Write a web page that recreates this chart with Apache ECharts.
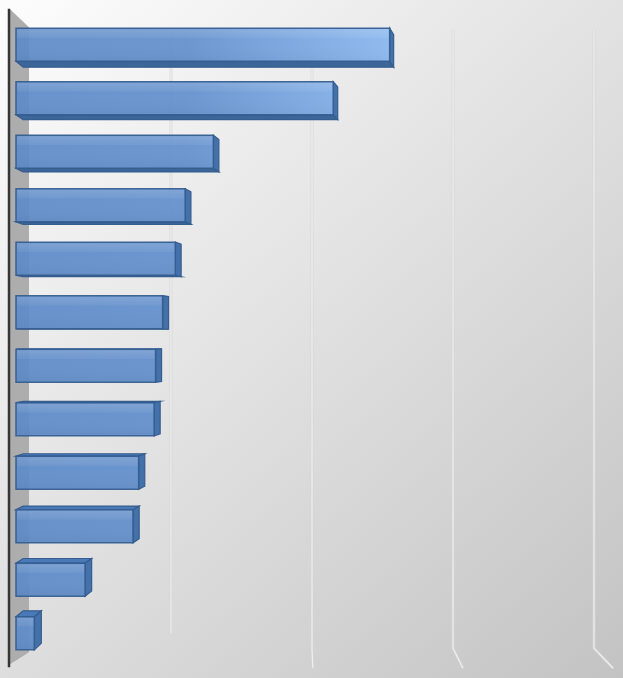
<!DOCTYPE html>
<html>
<head>
<meta charset="utf-8">
<script src="https://cdn.jsdelivr.net/npm/echarts@6/dist/echarts.min.js"></script>
<style>
html,body{margin:0;padding:0;background:#fff;}
#main{width:623px;height:678px;}
</style>
</head>
<body>
<div id="main"></div>
<script>
// 数据
var categories = ['1', '2', '3', '4', '5', '6', '7', '8', '9', '10', '11', '12'];
var values = [265, 225, 140, 120, 113, 104, 99, 98, 87, 83, 49, 13];
var ticks = [100, 200, 300, 400];

var chart = echarts.init(document.getElementById('main'));

// 立体效果的偏移量（右侧面 / 上下面）
function depth(x, y) {
    return [4 + (390 - x) * 0.0084, (340 - y) * 0.021];
}

function renderBar(params, api) {
    var i = api.value(1);
    var p = api.coord([api.value(0), i]);
    var p0 = api.coord([0, i]);
    var h = api.size([0, 1])[1] * 0.62;
    var x0 = p0[0] - 14, x1 = p[0] - 14;
    var y0 = p[1] - h / 2, y1 = p[1] + h / 2;
    var d0t = depth(x0, y0), d1t = depth(x1, y0), d1b = depth(x1, y1), d0b = depth(x0, y1);
    var edge = '#355d8f';
    var children = [];
    if (d1t[1] < 0) {
        // 顶面
        children.push({
            type: 'polygon',
            shape: {points: [[x0, y0], [x1, y0], [x1 + d1t[0], y0 + d1t[1]], [x0 + d0t[0], y0 + d0t[1]]]},
            style: {fill: '#4a79b8', stroke: edge, lineWidth: 1.2}
        });
    } else {
        // 底面
        children.push({
            type: 'polygon',
            shape: {points: [[x0, y1], [x1, y1], [x1 + d1b[0], y1 + d1b[1]], [x0 + d0b[0], y1 + d0b[1]]]},
            style: {fill: '#3c6699', stroke: edge, lineWidth: 1.2}
        });
    }
    // 右侧面
    children.push({
        type: 'polygon',
        shape: {points: [[x1, y0], [x1 + d1t[0], y0 + d1t[1]], [x1 + d1b[0], y1 + d1b[1]], [x1, y1]]},
        style: {fill: '#4571aa', stroke: edge, lineWidth: 1.2}
    });
    // 正面
    children.push({
        type: 'rect',
        shape: {x: x0, y: y0, width: x1 - x0, height: h},
        style: {
            fill: new echarts.graphic.LinearGradient(16, 0, 400, 0, [
                {offset: 0, color: '#5e8bc8'},
                {offset: 0.45, color: '#6390cd'},
                {offset: 1, color: '#8cbaf2'}
            ], true),
            stroke: edge,
            lineWidth: 1.5,
            opacity: 0.93
        }
    });
    children.push({
        type: 'rect',
        shape: {x: x0 + 1, y: y0 + 1, width: x1 - x0 - 2, height: h - 2},
        style: {
            fill: new echarts.graphic.LinearGradient(0, 0, 0, 1, [
                {offset: 0, color: 'rgba(255,255,255,0.14)'},
                {offset: 0.27, color: 'rgba(255,255,255,0.06)'},
                {offset: 0.3, color: 'rgba(255,255,255,0)'},
                {offset: 1, color: 'rgba(0,0,0,0.03)'}
            ])
        }
    });
    return {type: 'group', children: children};
}

function renderGrid(params, api) {
    var t = api.value(0);
    var top = api.coord([t, 0]);
    var bot = api.coord([t, categories.length - 1]);
    var x = top[0];
    var yTop = top[1] - 14.5, yBot = bot[1] + 15;
    var dx = (x - 300) * 0.065;
    var pts = [[x, yTop], [x, dx > 0 ? yBot : bot[1]]];
    if (dx > 0) pts.push([x + dx, yBot + 20]);
    return {
        type: 'group',
        children: [{
            type: 'polyline',
            shape: {points: pts},
            style: {stroke: '#d4d4d4', lineWidth: 3, fill: null, opacity: 0.7}
        }, {
            type: 'polyline',
            shape: {points: pts},
            style: {stroke: '#efefef', lineWidth: 1.2, fill: null}
        }]
    };
}

function renderWall(params, api) {
    var top = api.coord([0, 0]);
    var bot = api.coord([0, categories.length - 1]);
    var x = top[0];
    return {
        type: 'group',
        children: [{
            type: 'polygon',
            shape: {points: [[x - 20, top[1] - 35.5], [x - 1, top[1] - 17.5], [x - 1, bot[1] + 19], [x - 20, bot[1] + 31]]},
            style: {fill: '#adadad'}
        }, {
            type: 'line',
            shape: {x1: x - 21, y1: top[1] - 36, x2: x - 21, y2: bot[1] + 34},
            style: {stroke: '#363636', lineWidth: 2.5}
        }]
    };
}

var barData = values.map(function (v, i) { return [v, i]; });
var gridData = ticks.map(function (t) { return [t, 0]; });

chart.setOption({
    animation: false,
    backgroundColor: new echarts.graphic.LinearGradient(0, 0, 1, 1, [
        {offset: 0, color: '#fdfdfd'},
        {offset: 1, color: '#c3c3c3'}
    ]),
    grid: {left: 30, right: 29, top: 18, bottom: 18},
    xAxis: {
        type: 'value', min: 0, max: 400, interval: 100,
        show: false, splitLine: {show: false}
    },
    yAxis: {
        type: 'category', data: categories, inverse: true, show: false
    },
    series: [{
        type: 'custom', name: 'grid', z: 1, silent: true,
        renderItem: renderGrid, data: gridData, encode: {x: 0, y: 1}
    }, {
        type: 'custom', name: 'wall', z: 2, silent: true,
        renderItem: renderWall, data: [[0, 0]], encode: {x: 0, y: 1}
    }, {
        type: 'custom', name: '数量', z: 3,
        renderItem: renderBar, data: barData, encode: {x: 0, y: 1}
    }]
});
</script>
</body>
</html>
